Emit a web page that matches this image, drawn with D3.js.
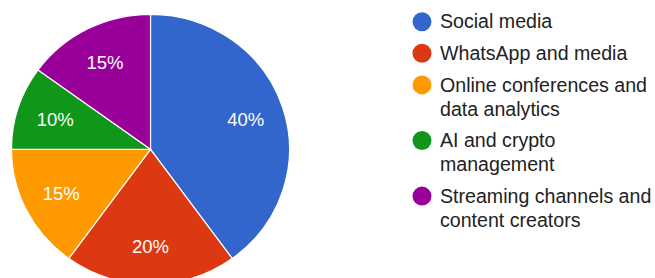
<!DOCTYPE html>
<html>
<head>
<meta charset="utf-8">
<script src="https://cdn.jsdelivr.net/npm/d3@7"></script>
<style>
  html, body { margin: 0; padding: 0; background: #fff; }
  svg { display: block; font-family: "Liberation Sans", Arial, sans-serif; }
</style>
</head>
<body>
<svg id="chart" width="655" height="278"></svg>
<script>
const categories = [
  "Social media",
  "WhatsApp and media",
  "Online conferences and data analytics",
  "AI and crypto management",
  "Streaming channels and content creators"
];
const values = [40, 20, 15, 10, 15];
const colors = ["#3366cc", "#dc3912", "#ff9900", "#109618", "#990099"];

const svg = d3.select("#chart");
const cx = 150.5, cy = 149.3, rx = 139, ry = 135;
const total = d3.sum(values);
const data = categories.map((c, i) => ({ name: c, value: values[i], color: colors[i] }));

const pie = d3.pie().value(d => d.value).sort(null);
const arcs = pie(data);
const arc = d3.arc().innerRadius(0).outerRadius(rx);
const labelArc = d3.arc().innerRadius(rx * 0.72).outerRadius(rx * 0.72);

const g = svg.append("g").attr("transform", `translate(${cx},${cy}) scale(1,${ry / rx})`);
g.selectAll("path").data(arcs).join("path")
  .attr("d", arc)
  .attr("fill", d => d.data.color)
  .attr("stroke", "#fff")
  .attr("stroke-width", 1.2);

svg.append("g").selectAll("text").data(arcs).join("text")
  .attr("x", d => cx + labelArc.centroid(d)[0])
  .attr("y", d => cy + labelArc.centroid(d)[1] * ry / rx)
  .attr("dy", "0.35em")
  .attr("text-anchor", "middle")
  .attr("fill", "#fff")
  .attr("font-size", "18.5px")
  .text(d => Math.round(d.data.value / total * 100) + "%");

// Legend
const lx = 440, cxl = 422, wrapW = 218;
const fs = "19.6px";
const legend = svg.append("g");
let y = 28.3;
data.forEach(d => {
  const t = legend.append("text")
    .attr("x", lx).attr("y", y)
    .attr("fill", "#222")
    .attr("font-size", fs);
  const words = d.name.split(" ");
  let lines = [], cur = [];
  const probe = legend.append("text").attr("font-size", fs);
  words.forEach(w => {
    const test = cur.concat([w]).join(" ");
    probe.text(test);
    if (probe.node().getComputedTextLength() > wrapW && cur.length) {
      lines.push(cur.join(" "));
      cur = [w];
    } else cur.push(w);
  });
  lines.push(cur.join(" "));
  probe.remove();
  lines.forEach((ln, i) => {
    t.append("tspan").attr("x", lx).attr("y", y + i * 24).text(ln);
  });
  legend.append("circle")
    .attr("cx", cxl).attr("cy", y - 6.6).attr("r", 9.5)
    .attr("fill", d.color);
  y += 31.6 + (lines.length - 1) * 24;
});
</script>
</body>
</html>
